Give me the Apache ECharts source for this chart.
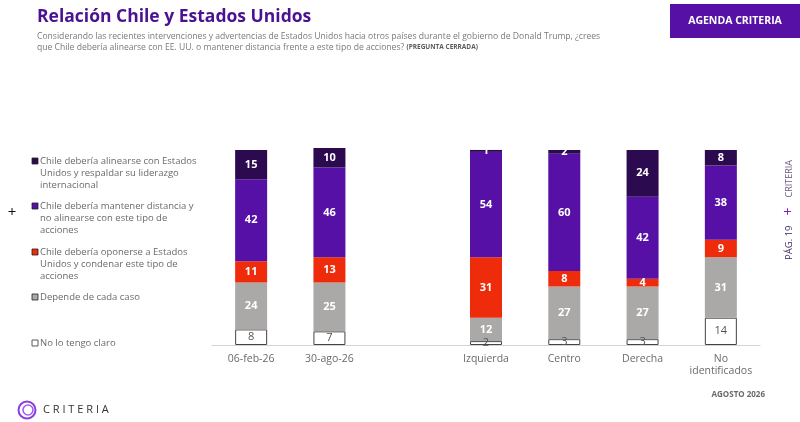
<!DOCTYPE html>
<html>
<head>
  <meta charset="utf-8">
  <title>Relación Chile y Estados Unidos</title>
  <style>
    html, body, #main { width: 100%; height: 100%; margin: 0; padding: 0; background: #fff; }
  </style>
  <script src="https://cdn.jsdelivr.net/npm/echarts@6/dist/echarts.min.js"></script>
</head>
<body>
  <div id="main"></div>
  <script>
    // categories (empty slot separates the time series from the political groups)
    var categories = ['06-feb-26', '30-ago-26', '', 'Izquierda', 'Centro', 'Derecha', 'No\nidentificados'];

    var seriesNames = [
      'Chile debería alinearse con Estados\nUnidos y respaldar su liderazgo\ninternacional',
      'Chile debería mantener distancia y\nno alinearse con este tipo de\nacciones',
      'Chile debería oponerse a Estados\nUnidos y condenar este tipo de\nacciones',
      'Depende de cada caso',
      'No lo tengo claro'
    ];

    var alinearse = [15, 10, null, 1, 2, 24, 8];
    var distancia = [42, 46, null, 54, 60, 42, 38];
    var oponerse  = [11, 13, null, 31, 8, 4, 9];
    var depende   = [24, 25, null, 12, 27, 27, 31];
    var noClaro   = [8, 7, null, 2, 3, 3, 14];

    var colors = ['#2c0a4f', '#5610a6', '#ee2c0c', '#aba8a8', '#ffffff'];
    var font = '"Open Sans", "Noto Sans", sans-serif';

    var chart = echarts.init(document.getElementById('main'));

    function barSeries(idx, data, labelColor, bold, border) {
      return {
        name: seriesNames[idx],
        type: 'bar',
        stack: 'total',
        barWidth: 32,
        clip: false,
        data: data,
        itemStyle: {
          color: colors[idx],
          borderColor: border || colors[idx],
          borderWidth: border ? 1 : 0
        },
        label: {
          show: true,
          position: 'inside',
          color: labelColor,
          fontFamily: font,
          fontSize: 11,
          fontWeight: bold ? 'bold' : 'normal'
        }
      };
    }

    // legend drawn by hand so markers sit on the first line of each item
    var legendTop = [161, 206, 252, 297, 343];
    var legendGraphics = [];
    seriesNames.forEach(function (name, i) {
      legendGraphics.push({
        type: 'rect',
        shape: { x: 32, y: legendTop[i] - 3, width: 6, height: 6 },
        style: { fill: colors[i], stroke: i === 4 ? '#333' : '#222', lineWidth: 0.8 }
      });
      legendGraphics.push({
        type: 'text',
        x: 40, y: legendTop[i] - 6,
        style: { text: name, fill: '#6a6a6a', font: '9.5px ' + font, lineHeight: 12 }
      });
    });

    var option = {
      animation: false,
      backgroundColor: '#fff',
      grid: { left: 212, right: 40, top: 148, bottom: 77 },
      xAxis: {
        type: 'category',
        data: categories,
        axisLine: { lineStyle: { color: '#d4d4d4' } },
        axisTick: { show: false },
        axisLabel: { color: '#6a6a6a', fontFamily: font, fontSize: 10.5, margin: 8, lineHeight: 12, interval: 0 }
      },
      yAxis: { type: 'value', min: 0, max: 101, show: false },
      series: [
        barSeries(4, noClaro, '#555', false, '#444'),
        barSeries(3, depende, '#fff', true),
        barSeries(2, oponerse, '#fff', true),
        barSeries(1, distancia, '#fff', true),
        barSeries(0, alinearse, '#fff', true)
      ],
      graphic: legendGraphics.concat([
        {
          type: 'text', x: 37, y: 8,
          style: { text: 'Relación Chile y Estados Unidos', fill: '#4a1290', font: 'bold 17.5px ' + font }
        },
        {
          type: 'text', x: 37, y: 31,
          style: {
            text: 'Considerando las recientes intervenciones y advertencias de Estados Unidos hacia otros países durante el gobierno de Donald Trump, ¿crees\nque Chile debería alinearse con EE. UU. o mantener distancia frente a este tipo de acciones? {b|(PREGUNTA CERRADA)}',
            fill: '#7a7a7a', font: '8.6px ' + font, lineHeight: 11,
            rich: { b: { fontSize: 6.5, fontWeight: 'bold', fill: '#5a5a5a', fontFamily: font } }
          }
        },
        {
          type: 'rect', shape: { x: 670, y: 4, width: 130, height: 34 },
          style: { fill: '#5610a6' }
        },
        {
          type: 'text', x: 735, y: 21,
          style: { text: 'AGENDA CRITERIA', fill: '#fff', font: 'bold 10.5px ' + font, align: 'center', verticalAlign: 'middle' }
        },
        {
          type: 'text', x: 12, y: 213,
          style: { text: '+', fill: '#111', font: '15px ' + font, align: 'center', verticalAlign: 'middle' }
        },
        {
          type: 'text', x: 789, y: 210, rotation: Math.PI / 2,
          style: {
            text: '{p|PÁG. 19}   {s|+}   {c|CRITERIA}',
            align: 'center', verticalAlign: 'middle',
            rich: {
              p: { fill: '#3a2560', fontSize: 9.5, fontFamily: font },
              s: { fill: '#7a1fd0', fontSize: 14, fontFamily: font },
              c: { fill: '#6a5a80', fontSize: 9, fontFamily: font }
            }
          }
        },
        {
          type: 'text', x: 765, y: 395,
          style: { text: 'AGOSTO 2026', fill: '#6a6a6a', font: 'bold 8px ' + font, align: 'right', verticalAlign: 'middle' }
        },
        {
          type: 'circle', shape: { cx: 27, cy: 410, r: 8.5 },
          style: { fill: 'none', stroke: '#8a3ee0', lineWidth: 2 }
        },
        {
          type: 'circle', shape: { cx: 28, cy: 410, r: 5 },
          style: { fill: 'none', stroke: '#a060f0', lineWidth: 1.6 }
        },
        {
          type: 'text', x: 43, y: 410,
          style: { text: 'C R I T E R I A', fill: '#333', font: '11px ' + font, verticalAlign: 'middle' }
        }
      ])
    };

    chart.setOption(option);
  </script>
</body>
</html>
